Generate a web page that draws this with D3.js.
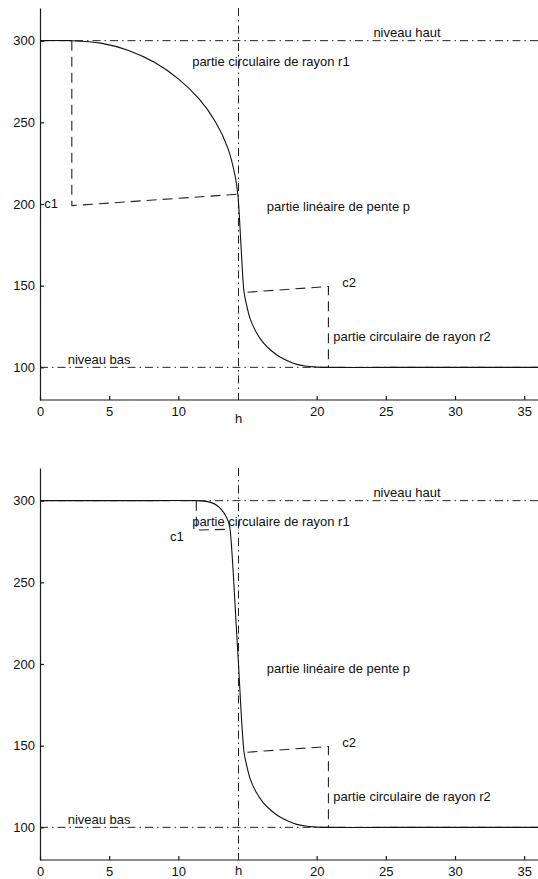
<!DOCTYPE html>
<html>
<head>
<meta charset="utf-8">
<script src="https://cdn.jsdelivr.net/npm/d3@7.9.0/dist/d3.min.js"></script>
<style>
  html, body { margin: 0; padding: 0; background: #fff; }
  svg { display: block; font-family: "Liberation Sans", Arial, sans-serif; }
  .axis path, .axis line { stroke: #1a1a1a; stroke-width: 1.2; }
  .axis text { font-size: 13px; fill: #111; font-family: "Liberation Sans", Arial, sans-serif; }
</style>
</head>
<body>
<svg id="chart" width="538" height="879"></svg>
<script>
// domains and ticks
const xDomain = [0, 36];
const yDomain = [80, 320];
const xTicks = [0, 5, 10, 20, 25, 30, 35];
const yTicks = [100, 150, 200, 250, 300];

// reference levels
const niveauHaut = 300;
const niveauBas = 100;
const h = 14.35;

// curve: [x, y]
const curveTop = [
  [0, 300], [2.3, 300], [4.4, 298.5], [6.4, 294], [8.3, 286.6], [10.0, 276.6],
  [11.5, 264.3], [12.7, 250], [13.58, 234.2], [14.1, 217.4], [14.3, 206],
  [14.52, 176], [14.75, 146], [14.9, 139.5], [15.2, 129.5],
  [15.6, 122], [16.15, 115], [16.75, 110], [17.35, 106.3], [18.0, 103.6],
  [18.56, 101.8], [19.2, 100.8], [19.8, 100.3], [20.8, 100], [28, 100], [36, 100]
];
const curveBottom = [
  [0, 300], [6, 300], [11.3, 300], [11.9, 299.7], [12.4, 298.8], [12.8, 297],
  [13.15, 294.2], [13.45, 290.3], [13.64, 286.5], [13.74, 282.5],
  [14.25, 214.5], [14.75, 146], [14.9, 139.5], [15.2, 129.5],
  [15.6, 122], [16.15, 115], [16.75, 110], [17.35, 106.3], [18.0, 103.6],
  [18.56, 101.8], [19.2, 100.8], [19.8, 100.3], [20.8, 100], [28, 100], [36, 100]
];

// dashed construction lines (centre c1 / c2)
const c1Top = [[2.3, 300], [2.3, 199], [14.3, 206]];
const c2Top = [[15.0, 146], [20.85, 149.5], [20.85, 100]];
const c1Bottom = [[11.3, 300], [11.3, 282], [13.74, 282.5]];
const c2Bottom = [[15.0, 146], [20.85, 149.5], [20.85, 100]];

// text labels: [text, x, y]
const labelsTop = [
  ["niveau haut", 24.1, 302.2],
  ["partie circulaire de rayon r1", 11.0, 284.3],
  ["c1", 0.3, 197.5],
  ["partie linéaire de pente p", 16.4, 196],
  ["c2", 21.85, 149.2],
  ["partie circulaire de rayon r2", 21.2, 116.2],
  ["niveau bas", 2.0, 102]
];
const labelsBottom = [
  ["niveau haut", 24.1, 302.4],
  ["partie circulaire de rayon r1", 11.0, 284.6],
  ["c1", 9.4, 275.5],
  ["partie linéaire de pente p", 16.4, 194.2],
  ["c2", 21.85, 149.4],
  ["partie circulaire de rayon r2", 21.2, 116.4],
  ["niveau bas", 2.0, 101.8]
];

const svg = d3.select('#chart');
const left = 40, right = 538;

function drawPanel(top, bottom, curve, c1, c2, labels, hOffset) {
  const x = d3.scaleLinear().domain(xDomain).range([left, right]);
  const y = d3.scaleLinear().domain(yDomain).range([bottom, top]);
  const g = svg.append('g');

  const line = d3.line().x(d => x(d[0])).y(d => y(d[1]));

  // dash-dot reference lines
  const dashDot = '8,4,1.5,4';
  g.append('path')
    .attr('d', line([[xDomain[0], niveauHaut], [xDomain[1], niveauHaut]]))
    .attr('fill', 'none').attr('stroke', '#222').attr('stroke-width', 1)
    .attr('stroke-dasharray', dashDot);
  g.append('path')
    .attr('d', line([[xDomain[0], niveauBas], [xDomain[1], niveauBas]]))
    .attr('fill', 'none').attr('stroke', '#222').attr('stroke-width', 1)
    .attr('stroke-dasharray', dashDot);
  g.append('path')
    .attr('d', line([[h, yDomain[1]], [h, yDomain[0]]]))
    .attr('fill', 'none').attr('stroke', '#222').attr('stroke-width', 1)
    .attr('stroke-dasharray', dashDot);

  // dashed construction lines
  [c1, c2].forEach(pts => {
    g.append('path')
      .attr('d', line(pts))
      .attr('fill', 'none').attr('stroke', '#222').attr('stroke-width', 1.1)
      .attr('stroke-dasharray', '10,6');
  });

  // main curve
  const curveLine = d3.line()
    .x(d => x(d[0])).y(d => y(d[1]))
    .curve(d3.curveCatmullRom.alpha(0.5));
  g.append('path')
    .attr('d', curveLine(curve))
    .attr('fill', 'none').attr('stroke', '#111').attr('stroke-width', 1.1);

  // axes
  g.append('g').attr('class', 'axis')
    .attr('transform', `translate(0,${bottom})`)
    .call(d3.axisBottom(x).tickValues(xTicks).tickSizeInner(-4).tickSizeOuter(0).tickPadding(7))
    .call(a => a.select('.domain').attr('d', `M${left},0H${right}`));
  g.append('g').attr('class', 'axis')
    .attr('transform', `translate(${left},0)`)
    .call(d3.axisLeft(y).tickValues(yTicks).tickSizeInner(-4).tickSizeOuter(0).tickPadding(5));

  // "h" below axis
  g.append('text')
    .attr('x', x(h)).attr('y', bottom + hOffset)
    .attr('text-anchor', 'middle')
    .attr('font-size', 13).attr('fill', '#111')
    .text('h');

  // labels
  g.selectAll('text.lbl')
    .data(labels)
    .join('text')
    .attr('class', 'lbl')
    .attr('x', d => x(d[1]))
    .attr('y', d => y(d[2]))
    .attr('font-size', 13).attr('fill', '#111')
    .text(d => d[0]);
}

drawPanel(8, 400, curveTop, c1Top, c2Top, labelsTop, 22.5);
drawPanel(468, 860, curveBottom, c1Bottom, c2Bottom, labelsBottom, 15);
</script>
</body>
</html>
